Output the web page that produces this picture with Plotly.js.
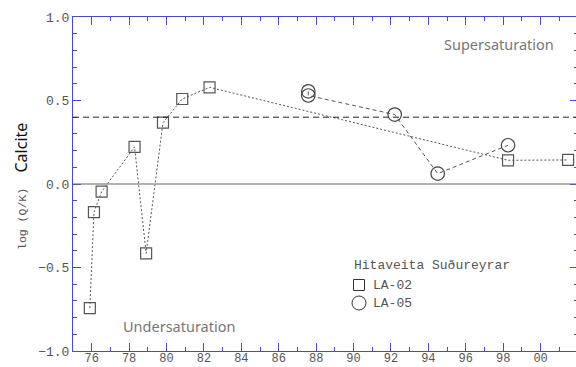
<!DOCTYPE html>
<html><head><meta charset="utf-8">
<script src="https://cdn.plot.ly/plotly-3.0.1.min.js"></script>
<style>html,body{margin:0;padding:0;background:#fff;overflow:hidden}#chart{width:578px;height:367px}</style>
</head><body><div id="chart"></div>
<script>
// LA-02 (squares)
const la02Years = [75.90, 76.12, 76.53, 78.29, 78.91, 79.81, 80.84, 82.30, 98.26, 101.47];
const la02LogQK = [-0.743, -0.169, -0.046, 0.222, -0.415, 0.367, 0.509, 0.579, 0.142, 0.144];
// LA-05 (circles)
const la05Years = [87.58, 87.58, 92.20, 94.50, 98.26];
const la05LogQK = [0.555, 0.530, 0.416, 0.062, 0.232];
// axis ticks
const xTickVals = [76, 78, 80, 82, 84, 86, 88, 90, 92, 94, 96, 98, 100];
const xTickText = ['76', '78', '80', '82', '84', '86', '88', '90', '92', '94', '96', '98', '00'];
const yTickVals = [-1.0, -0.5, 0.0, 0.5, 1.0];
const yTickText = ['\u22121.0', '\u22120.5', '0.0', '0.5', '1.0'];
const threshold = 0.40;
const legendTitle = 'Hitaveita Suðureyrar';
const legendNames = ['LA-02', 'LA-05'];

const mono = 'Liberation Mono, DejaVu Sans Mono, monospace';
const sans = 'Noto Sans, Open Sans, sans-serif';
const axisBlue = '#4a4ac8';
const gray = '#555';

const traces = [
  {x: la05Years, y: la05LogQK, mode: 'lines+markers', showlegend: false,
   line: {color: gray, width: 1, dash: '4px,3px'},
   marker: {symbol: 'circle-open', size: 13.5, color: '#444', line: {width: 1.2}}},
  {x: la02Years, y: la02LogQK, mode: 'lines+markers', showlegend: false,
   line: {color: gray, width: 1, dash: '2px,2px'},
   marker: {symbol: 'square-open', size: 11, color: '#555', line: {width: 1.2}}}
];

// plot area: x 73..578, y 17..351 (pixels)
const px = v => (v - 73) / 505;
const py = v => (351 - v) / 334;

const layout = {
  width: 578, height: 367,
  margin: {l: 73, r: 0, t: 17, b: 16},
  paper_bgcolor: '#fff', plot_bgcolor: '#fff',
  showlegend: false,
  xaxis: {range: [75, 102], tickmode: 'array', tickvals: xTickVals, ticktext: xTickText,
    showgrid: false, zeroline: false, showline: true, linecolor: axisBlue, linewidth: 1,
    mirror: 'allticks', ticks: 'inside', ticklen: 8, tickcolor: axisBlue, tickwidth: 1,
    ticklabelstandoff: -4,
    tickfont: {family: mono, size: 12, color: '#555'},
    minor: {dtick: 1, tick0: 75, ticks: 'inside', ticklen: 4, tickcolor: axisBlue, showgrid: false}},
  yaxis: {range: [-1.0, 1.0], tickmode: 'array', tickvals: yTickVals, ticktext: yTickText,
    showgrid: false, zeroline: false, showline: true, linecolor: axisBlue, linewidth: 1,
    mirror: 'allticks', ticks: 'inside', ticklen: 8, tickcolor: axisBlue, tickwidth: 1,
    tickfont: {family: mono, size: 13, color: '#555'},
    minor: {dtick: 0.1, tick0: 0, ticks: 'inside', ticklen: 4, tickcolor: axisBlue, showgrid: false}},
  shapes: [
    {type: 'line', xref: 'paper', x0: 0, x1: 1, yref: 'y', y0: 0, y1: 0, line: {color: '#666', width: 1.2}},
    {type: 'line', xref: 'paper', x0: 0, x1: 1, yref: 'y', y0: threshold, y1: threshold, line: {color: '#222', width: 1, dash: '6px,4px'}},
    // legend symbols
    {type: 'rect', xref: 'paper', yref: 'paper', xsizemode: 'pixel', ysizemode: 'pixel',
     xanchor: px(359), yanchor: py(285), x0: -5.5, x1: 5.5, y0: -5.5, y1: 5.5, line: {color: '#333', width: 1}},
    {type: 'circle', xref: 'paper', yref: 'paper', xsizemode: 'pixel', ysizemode: 'pixel',
     xanchor: px(359), yanchor: py(303), x0: -7, x1: 7, y0: -7, y1: 7, line: {color: '#333', width: 1}}
  ],
  annotations: [
    {text: 'Supersaturation', xref: 'paper', yref: 'paper', x: px(556), y: py(44), xanchor: 'right', yanchor: 'middle', showarrow: false,
     font: {family: sans, size: 14.5, color: '#777'}},
    {text: 'Undersaturation', xref: 'paper', yref: 'paper', x: px(121), y: py(326), xanchor: 'left', yanchor: 'middle', showarrow: false,
     font: {family: sans, size: 14.5, color: '#777'}},
    {text: 'Calcite', xref: 'paper', yref: 'paper', x: px(20.5), y: py(148), xanchor: 'center', yanchor: 'middle', showarrow: false, textangle: -90,
     font: {family: sans, size: 16, color: '#111'}},
    {text: 'log (Q/K)', xref: 'paper', yref: 'paper', x: px(22), y: py(219), xanchor: 'center', yanchor: 'middle', showarrow: false, textangle: -90,
     font: {family: mono, size: 11.5, color: '#555'}},
    {text: legendTitle, xref: 'paper', yref: 'paper', x: px(352), y: py(265), xanchor: 'left', yanchor: 'middle', showarrow: false,
     font: {family: mono, size: 13, color: '#555'}},
    {text: legendNames[0], xref: 'paper', yref: 'paper', x: px(371), y: py(285), xanchor: 'left', yanchor: 'middle', showarrow: false,
     font: {family: mono, size: 13, color: '#555'}},
    {text: legendNames[1], xref: 'paper', yref: 'paper', x: px(371), y: py(303), xanchor: 'left', yanchor: 'middle', showarrow: false,
     font: {family: mono, size: 13, color: '#555'}}
  ]
};

Plotly.newPlot('chart', traces, layout, {displayModeBar: false, staticPlot: true});
</script>
</body></html>
